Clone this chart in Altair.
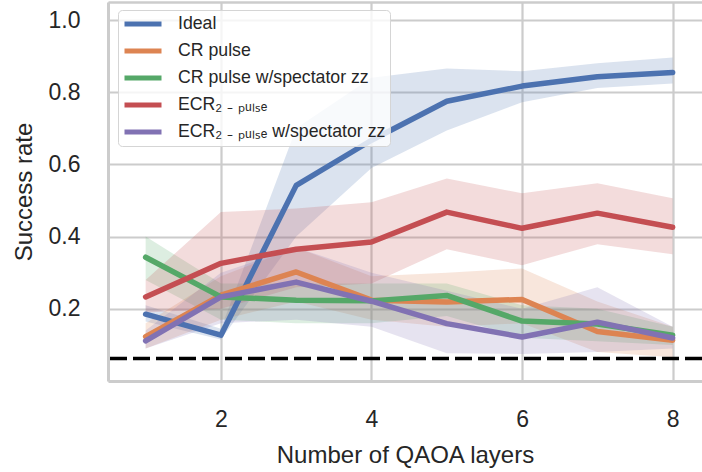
import altair as alt
import pandas as pd

# QAOA depth (number of layers)
layers = [1, 2, 3, 4, 5, 6, 7, 8]

series_names = [
    "Ideal",
    "CR pulse",
    "CR pulse w/spectator zz",
    "ECR₂ ₋ ₚᵤₗₛₑ",
    "ECR₂ ₋ ₚᵤₗₛₑ w/spectator zz",
]
palette = ["#4C72B0", "#DD8452", "#55A868", "#C44E52", "#8172B3"]

# mean success rate per depth
ideal = [0.185, 0.127, 0.542, 0.667, 0.775, 0.817, 0.843, 0.855]
cr = [0.123, 0.238, 0.302, 0.224, 0.219, 0.226, 0.137, 0.113]
cr_zz = [0.343, 0.233, 0.224, 0.222, 0.237, 0.166, 0.158, 0.127]
ecr = [0.233, 0.326, 0.365, 0.385, 0.468, 0.423, 0.465, 0.426]
ecr_zz = [0.111, 0.233, 0.274, 0.221, 0.159, 0.122, 0.163, 0.119]

# spread (lower / upper) per depth
ideal_lo = [0.165, 0.115, 0.400, 0.590, 0.694, 0.772, 0.812, 0.824]
ideal_hi = [0.210, 0.145, 0.700, 0.840, 0.866, 0.858, 0.880, 0.896]
cr_lo = [0.090, 0.170, 0.220, 0.170, 0.150, 0.160, 0.080, 0.066]
cr_hi = [0.160, 0.290, 0.370, 0.290, 0.300, 0.312, 0.220, 0.150]
cr_zz_lo = [0.280, 0.170, 0.160, 0.160, 0.180, 0.120, 0.110, 0.100]
cr_zz_hi = [0.400, 0.270, 0.270, 0.270, 0.270, 0.210, 0.200, 0.150]
ecr_lo = [0.190, 0.200, 0.260, 0.270, 0.365, 0.321, 0.379, 0.351]
ecr_hi = [0.280, 0.468, 0.478, 0.495, 0.561, 0.520, 0.548, 0.506]
ecr_zz_lo = [0.090, 0.160, 0.170, 0.150, 0.077, 0.075, 0.080, 0.090]
ecr_zz_hi = [0.140, 0.300, 0.370, 0.300, 0.250, 0.200, 0.260, 0.150]

# random-guess baseline for 4 qubits
random_guess = [1 / 16]

means = [ideal, cr, cr_zz, ecr, ecr_zz]
lows = [ideal_lo, cr_lo, cr_zz_lo, ecr_lo, ecr_zz_lo]
highs = [ideal_hi, cr_hi, cr_zz_hi, ecr_hi, ecr_zz_hi]

rows = []
for name, m, lo, hi in zip(series_names, means, lows, highs):
    for p, a, b, c in zip(layers, m, lo, hi):
        rows.append({"series": name, "layers": p, "rate": a, "lo": b, "hi": c})
df = pd.DataFrame(rows)

FONT = "Liberation Sans"
TEXT = "#262626"
GRID = "#cccccc"

x_scale = alt.Scale(domain=[0.5, 8.39], nice=False, zero=False)
y_scale = alt.Scale(domain=[0, 1.05], nice=False, zero=False)
color_scale = alt.Scale(domain=series_names, range=palette)

y_axis = alt.Axis(values=[0.2, 0.4, 0.6, 0.8, 1.0], format=".1f", title="Success rate",
                  grid=True, gridColor=GRID, gridWidth=2.2,
                  domain=True, domainColor=GRID, domainWidth=3,
                  ticks=False, tickSize=0, labelPadding=28, titlePadding=12,
                  labelFontSize=23, titleFontSize=24, labelFont=FONT, titleFont=FONT,
                  labelColor=TEXT, titleColor=TEXT, titleFontWeight="normal")

legend = alt.Legend(title=None, orient="none", legendX=10, legendY=8,
                    symbolType="stroke", symbolSize=1369, symbolStrokeWidth=5,
                    symbolOpacity=1, clipHeight=20,
                    labelFont=FONT, labelFontSize=17.7, labelColor=TEXT,
                    labelOffset=14, rowPadding=7, padding=4,
                    fillColor="rgba(255,255,255,0.8)", strokeColor="#d5d5d5",
                    cornerRadius=4, labelLimit=400)

color = alt.Color("series:N", scale=color_scale, legend=legend)

bands = alt.Chart(df).mark_area(opacity=0.2, clip=True).encode(
    x=alt.X("layers:Q", scale=x_scale,
            axis=alt.Axis(orient="top", labels=False, ticks=False, grid=False,
                          domain=True, domainColor=GRID, domainWidth=2.5, title=None)),
    y=alt.Y("lo:Q", scale=y_scale, axis=y_axis),
    y2="hi:Q",
    color=color,
)

lines = alt.Chart(df).mark_line(strokeWidth=5.5, strokeCap="round", strokeJoin="round", clip=True).encode(
    x=alt.X("layers:Q", scale=x_scale,
            axis=alt.Axis(values=[2, 4, 6, 8], title="Number of QAOA layers",
                          grid=True, gridColor=GRID, gridWidth=2.2,
                          domain=True, domainColor=GRID, domainWidth=3,
                          ticks=False, tickSize=0, labelPadding=27, titlePadding=12,
                          labelFontSize=23, titleFontSize=24, labelFont=FONT, titleFont=FONT,
                          labelColor=TEXT, titleColor=TEXT, titleFontWeight="normal")),
    y=alt.Y("rate:Q", scale=y_scale, axis=y_axis),
    color=color,
)

baseline = alt.Chart(pd.DataFrame({"rate": random_guess})).mark_rule(
    color="black", strokeWidth=3.5, strokeDash=[17, 6]
).encode(y=alt.Y("rate:Q", scale=y_scale, axis=y_axis))

chart = alt.layer(bands, lines, baseline).resolve_axis(x="independent").properties(
    width=594, height=379,
    autosize=alt.AutoSizeParams(type="none"),
    padding={"left": 108, "top": 2, "right": 0, "bottom": 91},
).configure_view(stroke=None).configure(background="white")

chart.save("out.html", embed_options={"renderer": "svg", "actions": False})
